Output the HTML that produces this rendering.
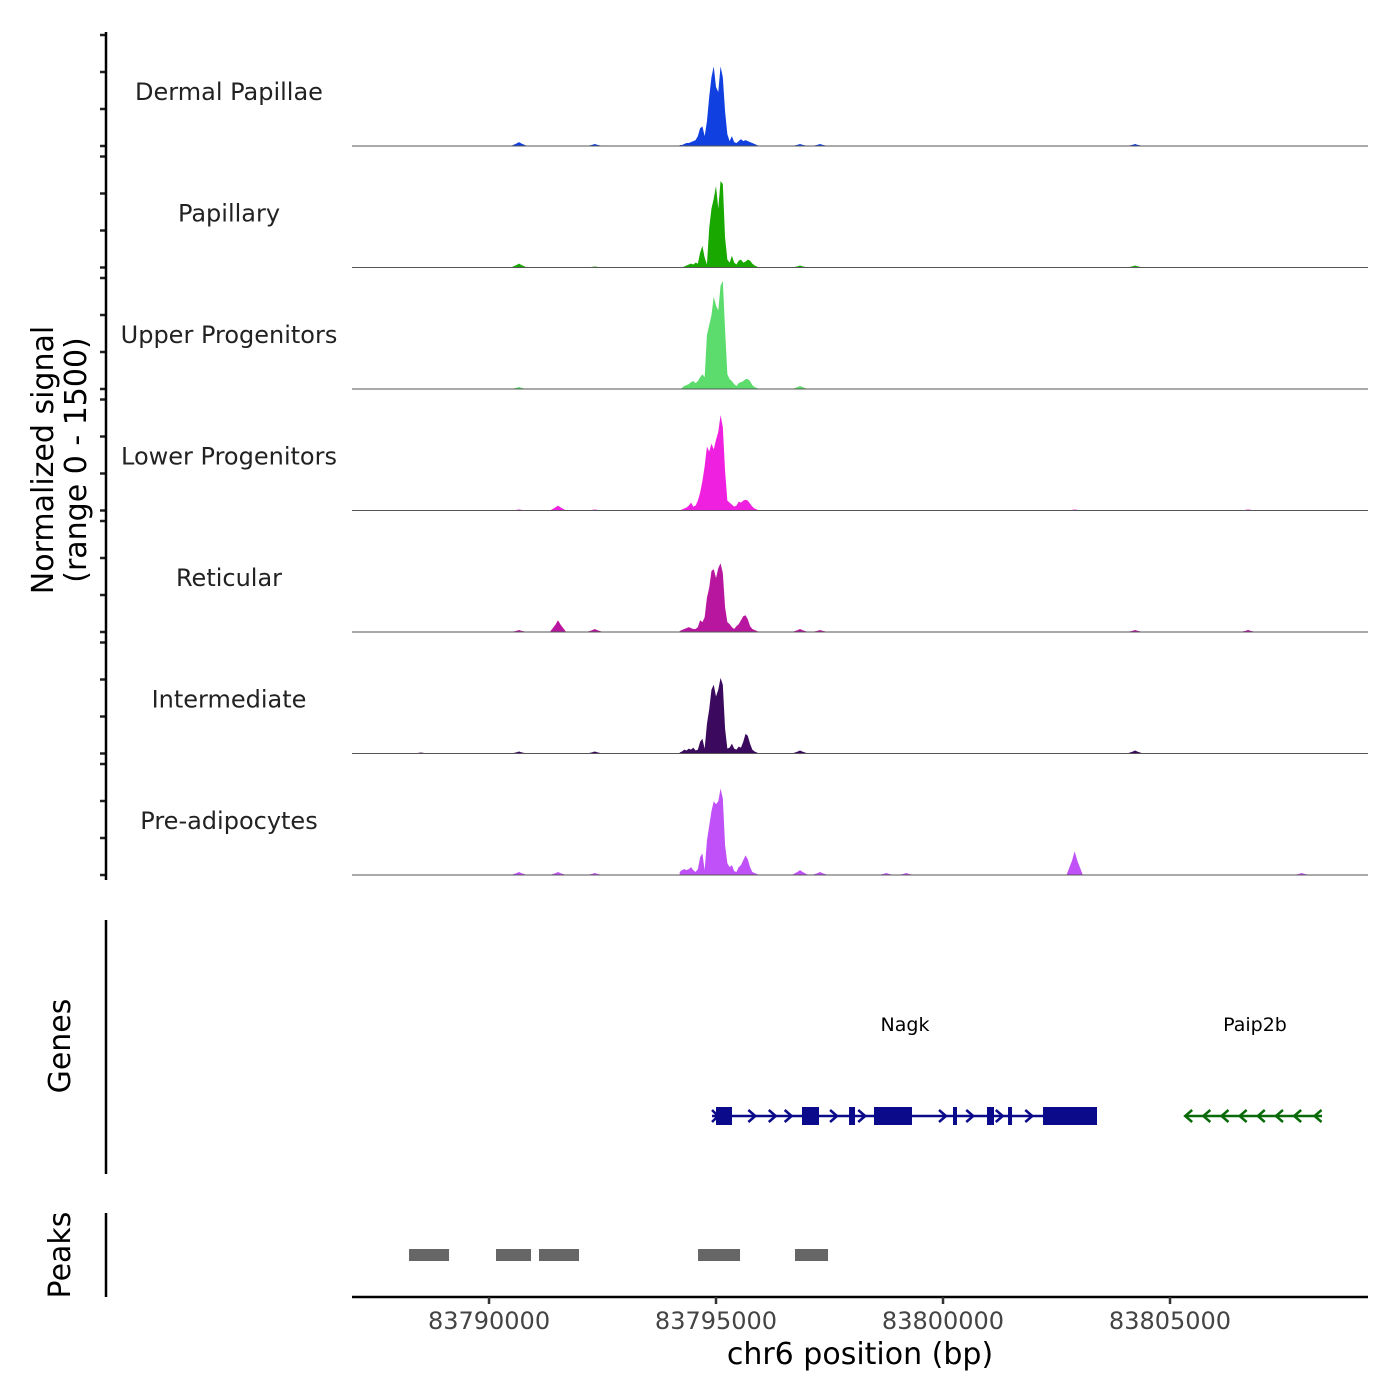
<!DOCTYPE html>
<html><head><meta charset="utf-8"><style>
html,body{margin:0;padding:0;background:#fff;}
svg{display:block;font-family:"DejaVu Sans","Liberation Sans",sans-serif;}
</style></head><body>
<svg id="chart" width="1400" height="1400" viewBox="0 0 1400 1400" xmlns="http://www.w3.org/2000/svg">
<g id="tracks"></g>
<g id="yaxis"></g>
<text transform="translate(53,460) rotate(-90)" text-anchor="middle" font-size="30" fill="#000">Normalized signal</text>
<text transform="translate(86,460) rotate(-90)" text-anchor="middle" font-size="30" fill="#000">(range 0 - 1500)</text>
<g id="genes"></g>
<line x1="106" y1="920" x2="106" y2="1174" stroke="#000" stroke-width="2.5"/>
<text transform="translate(70,1046) rotate(-90)" text-anchor="middle" font-size="30" fill="#000">Genes</text>
<g id="peaks"></g>
<line x1="106" y1="1213" x2="106" y2="1297" stroke="#000" stroke-width="2.5"/>
<text transform="translate(70,1255) rotate(-90)" text-anchor="middle" font-size="30" fill="#000">Peaks</text>
<g id="xaxis"></g>
<text x="860" y="1364" text-anchor="middle" font-size="30" fill="#000">chr6 position (bp)</text>
</svg>
<script>
const trackNames = ["Dermal Papillae","Papillary","Upper Progenitors","Lower Progenitors","Reticular","Intermediate","Pre-adipocytes"];
const trackColors = ["#1040e0","#18a800","#5cdc6c","#f020e0","#b8169f","#3b0a5e","#c050f8"];
const mainPos = [83794200,83794250,83794300,83794350,83794400,83794450,83794500,83794550,83794600,83794650,83794700,83794750,83794800,83794850,83794900,83794950,83795000,83795050,83795100,83795150,83795200,83795250,83795300,83795350,83795400,83795450,83795500,83795550,83795600,83795650,83795700,83795750,83795800,83795850,83795900,83795950,83796000];
const sigDermal = [1,1,2,3,3,4,5,6,10,18,20,10,25,50,70,81,60,55,81,70,35,12,5,10,4,3,5,7,5,6,5,4,3,2,1,0,0];
const sigPapillary = [0,0,1,2,3,4,3,5,4,15,22,10,3,40,60,70,83,60,88,85,30,8,5,12,5,3,7,8,5,6,8,7,4,2,1,0,0];
const sigUpper = [0,1,3,4,5,7,8,6,8,12,15,12,55,65,75,94,85,80,105,110,60,15,10,8,5,3,6,7,8,10,10,8,4,2,1,0,0];
const sigLower = [0,1,2,3,5,8,4,5,10,18,30,45,65,60,68,62,72,80,97,85,40,10,8,6,4,5,9,8,10,11,10,7,4,2,1,0,0];
const sigReticular = [1,2,3,4,5,4,3,3,5,12,10,15,35,45,62,64,55,65,70,60,25,10,8,5,3,6,8,12,16,17,13,6,3,2,1,0,0];
const sigIntermediate = [1,2,4,3,5,4,6,3,4,12,15,5,30,45,65,70,58,65,77,70,25,5,6,10,5,4,7,6,12,20,18,10,4,2,1,0,0];
const sigPreadipo = [3,5,6,5,6,8,5,3,6,18,22,5,35,50,65,75,72,75,88,78,30,12,8,10,4,3,8,10,15,20,16,8,3,2,1,0,0];
const mainSignals = [sigDermal,sigPapillary,sigUpper,sigLower,sigReticular,sigIntermediate,sigPreadipo];
const minorPos = [83788500,83790660,83791520,83792330,83796850,83797290,83798750,83799190,83802900,83804230,83806720,83807900];
const minorDermal = [0,4,0,2,2,2,0,0,0,2,0,0];
const minorPapillary = [0,4,0,1,2,0,0,0,0,2,0,0];
const minorUpper = [0,2,0,0,3,0,0,0,0,0,0,0];
const minorLower = [0,1,5,1,0,0,0,0,1,0,1,0];
const minorReticular = [0,2,12,3,3,2,0,0,0,2,2,0];
const minorIntermediate = [1,2,0,2,3,0,0,0,0,3,0,0];
const minorPreadipo = [0,3,3,2,5,3,2,2,24,0,0,2];
const minorSignals = [minorDermal,minorPapillary,minorUpper,minorLower,minorReticular,minorIntermediate,minorPreadipo];
const xTicks = [83790000,83795000,83800000,83805000];
const nagkExonStart = [83795000,83796894,83797930,83798480,83800220,83800969,83801432,83802203];
const nagkExonEnd = [83795352,83797269,83798062,83799317,83800308,83801123,83801520,83803392];
const nagkRange = [83794912,83803392];
const paip2bRange = [83805374,83808348];
const peakStart = [83788238,83790154,83791101,83794604,83796740];
const peakEnd = [83789119,83790925,83791982,83795529,83797467];

const NS="http://www.w3.org/2000/svg";
const X0=352,X1=1368,BP0=83786982,BP1=83809361;
function xs(bp){return X0+(bp-BP0)*(X1-X0)/(BP1-BP0);}
const panelH=121.5, firstBase=146, yMax=117;
function ys(v,i){return firstBase+i*panelH - v*(115/yMax);}
function mk(tag,attrs,parent){const e=document.createElementNS(NS,tag);for(const k in attrs)e.setAttribute(k,attrs[k]);parent.appendChild(e);return e;}

const tracks=document.getElementById('tracks');
const yaxis=document.getElementById('yaxis');
const halfW=180;
mainSignals.forEach((sig,i)=>{
  const base=firstBase+i*panelH;
  const g=mk('g',{},tracks);
  
  
  let d='M'+xs(mainPos[0])+','+base;
  sig.forEach((v,k)=>{d+=' L'+xs(mainPos[k]).toFixed(2)+','+ys(v,i).toFixed(2);});
  d+=' L'+xs(mainPos[mainPos.length-1])+','+base+' Z';
  const p=mk('path',{d:d,fill:trackColors[i]},g);
  
  
  minorSignals[i].forEach((v,k)=>{
    if(v<=0)return;
    const c=minorPos[k];
    const dd='M'+xs(c-halfW)+','+base+' L'+xs(c-halfW/3)+','+ys(v*0.6,i)+' L'+xs(c)+','+ys(v,i)+' L'+xs(c+halfW/3)+','+ys(v*0.6,i)+' L'+xs(c+halfW)+','+base+' Z';
    const q=mk('path',{d:dd,fill:trackColors[i]},g);
    
    
  });
  const bl=mk('line',{x1:X0,x2:X1,y1:base,y2:base,stroke:'#555','stroke-width':1},g);
  
  
  const t=mk('text',{x:229,y:base-46,'text-anchor':'middle','font-size':24,fill:'#222'},g);
  t.textContent=trackNames[i];
  
  
  [0,37,74,111].forEach(o=>{
    const tk=mk('line',{x1:100,x2:106,y1:base-o,y2:base-o,stroke:'#222','stroke-width':2.5},yaxis);
    
    
  });
});
const ya=mk('line',{x1:106,x2:106,y1:32,y2:880,stroke:'#000','stroke-width':2.5},yaxis);



// genes
const genes=document.getElementById('genes');
const nagkG=mk('g',{},genes);


const gy=1116, navy='#0a0a8a';
mk('line',{x1:xs(nagkRange[0]),x2:xs(nagkRange[1]),y1:gy,y2:gy,stroke:navy,'stroke-width':2.5},nagkG);
const chevN=[83795800,83796250,83796600,83797600,83798220,83800000,83800600,83801250,83801900];
chevN.forEach(c=>{const x=xs(c);mk('path',{d:`M${x-4},${gy-6} L${x+3},${gy} L${x-4},${gy+6}`,fill:'none',stroke:navy,'stroke-width':2.5},nagkG);});
mk('path',{d:`M${xs(nagkRange[0])},${gy-6} L${xs(nagkRange[0])+6},${gy} L${xs(nagkRange[0])},${gy+6}`,fill:'none',stroke:navy,'stroke-width':2.5},nagkG);
nagkExonStart.forEach((s,k)=>{
  const r=mk('rect',{x:xs(s),y:gy-9,width:Math.max(3,xs(nagkExonEnd[k])-xs(s)),height:18,fill:navy},nagkG);
  
  
});
const nl=mk('text',{x:905,y:1031,'text-anchor':'middle','font-size':19,fill:'#000'},nagkG);
nl.textContent='Nagk';


const paipG=mk('g',{},genes);


const grn='#0a6a0a';
mk('line',{x1:xs(paip2bRange[0]),x2:xs(paip2bRange[1]),y1:gy,y2:gy,stroke:grn,'stroke-width':2.5},paipG);
[83805400,83805800,83806200,83806600,83807000,83807400,83807800,83808250].forEach(c=>{const x=xs(c);mk('path',{d:`M${x+4},${gy-6} L${x-3},${gy} L${x+4},${gy+6}`,fill:'none',stroke:grn,'stroke-width':2.5},paipG);});
const pl=mk('text',{x:1255,y:1031,'text-anchor':'middle','font-size':19,fill:'#000'},paipG);
pl.textContent='Paip2b';



// peaks
const peaks=document.getElementById('peaks');
peakStart.forEach((s,k)=>{
  const r=mk('rect',{x:xs(s),y:1249,width:xs(peakEnd[k])-xs(s),height:12,fill:'#666'},peaks);
  
  
});

// x axis
const xa=document.getElementById('xaxis');
const al=mk('line',{x1:X0,x2:X1,y1:1297,y2:1297,stroke:'#000','stroke-width':2.5},xa);


xTicks.forEach(t=>{
  const x=xs(t);
  const tk=mk('line',{x1:x,x2:x,y1:1297,y2:1304,stroke:'#333','stroke-width':2.5},xa);
  
  
  const lb=mk('text',{x:x,y:1329,'text-anchor':'middle','font-size':24,fill:'#444'},xa);
  lb.textContent=t;
  
  
});
</script>
</body></html>
